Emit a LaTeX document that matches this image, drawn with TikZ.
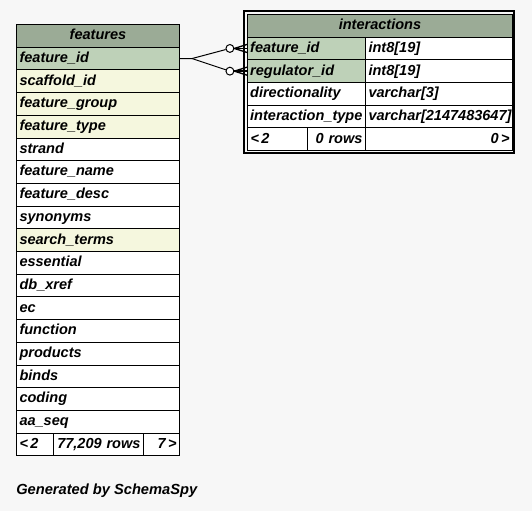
\documentclass[tikz,border=0pt]{standalone}
\usepackage{fontspec}
\setmainfont{Liberation Sans}
\usepackage{tikz}
\usetikzlibrary{positioning}

\definecolor{diagbg}{RGB}{247,247,247}
\definecolor{headfill}{RGB}{155,171,150}
\definecolor{keyfill}{RGB}{190,209,184}
\definecolor{idxfill}{RGB}{245,247,222}
\hyphenpenalty=10000
\exhyphenpenalty=10000

\begin{document}
\begin{tikzpicture}[x=0.75pt,y=0.75pt,yscale=-1,
  every node/.style={font=\fontsize{10.9}{12}\selectfont\bfseries\itshape},
  cell/.style={draw=black, line width=0.75pt, fill=white, anchor=north west,
    minimum height=17.03pt, inner xsep=2.25pt, inner ysep=0pt, align=left,
    text height=8.2pt, text depth=2.4pt},
  fcol/.style={cell, text width=117.75pt},
  hcell/.style={cell, fill=headfill, align=center},
  colA/.style={cell, inner xsep=2pt, text width=84.5pt},
  colB/.style={cell, text width=105.75pt},
  ring/.style={circle, draw=black, fill=white, line width=0.75pt, minimum size=5.9pt, inner sep=0pt},
  link/.style={draw=black, line width=0.75pt}]
%set diagram size: 532 x 511
\useasboundingbox (0,0) rectangle (532,511);
\fill[diagbg] (0,0) rectangle (532,511);

%Table: features
\node[hcell, text width=117.75pt] (fhead) at (16,24) {features};
\node[fcol, fill=keyfill] (fid) at (16,46.7) {feature\_id};
\node[fcol, fill=idxfill] (fscaf) at (16,69.4) {scaffold\_id};
\node[fcol, fill=idxfill] (fgroup) at (16,92.1) {feature\_group};
\node[fcol, fill=idxfill] (ftype) at (16,114.8) {feature\_type};
\node[fcol] (fstrand) at (16,137.5) {strand};
\node[fcol] (fname) at (16,160.2) {feature\_name};
\node[fcol] (fdesc) at (16,182.9) {feature\_desc};
\node[fcol] (fsyn) at (16,205.6) {synonyms};
\node[fcol, fill=idxfill] (fsearch) at (16,228.3) {search\_terms};
\node[fcol] (fess) at (16,251) {essential};
\node[fcol] (fxref) at (16,273.7) {db\_xref};
\node[fcol] (fec) at (16,296.4) {ec};
\node[fcol] (ffunc) at (16,319.1) {function};
\node[fcol] (fprod) at (16,341.8) {products};
\node[fcol] (fbinds) at (16,364.5) {binds};
\node[fcol] (fcoding) at (16,387.2) {coding};
\node[fcol] (faa) at (16,409.9) {aa\_seq};
%footer
\node[cell, text width=23.25pt] (ffoot1) at (16,432.6) {<\,2};
\node[cell, text width=63pt, align=right] (ffoot2) at (53,432.6) {77,209 rows};
\node[cell, text width=22.5pt, align=right] (ffoot3) at (143,432.6) {7\,>};

%Table: interactions
\draw[line width=1.3pt] (244,11) rectangle (514,153);
\node[hcell, text width=194.25pt] (ihead) at (247,13.9) {interactions};
\node[colA, fill=keyfill] (ifid) at (247,36.6) {feature\_id};
\node[colB] (ifidt) at (365,36.6) {int8[19]};
\node[colA, fill=keyfill] (ireg) at (247,59.3) {regulator\_id};
\node[colB] (iregt) at (365,59.3) {int8[19]};
\node[colA] (idir) at (247,82) {directionality};
\node[colB] (idirt) at (365,82) {varchar[3]};
\node[colA] (itype) at (247,104.7) {interaction\_type};
\node[colB] (itypet) at (365,104.7) {varchar[2147483647]};
%footer
\node[cell, text width=40.5pt] (ifoot1) at (247,127.4) {<\,2};
\node[cell, text width=39pt, align=right] (ifoot2) at (307,127.4) {0 rows};
\node[colB, align=right] (ifoot3) at (365,127.4) {0\,>};

%Relationships
\node[ring, left=9.5pt of ifid] (ring1) {};
\node[ring, left=9.5pt of ireg] (ring2) {};
\coordinate (split) at ([xshift=9pt]fid.east);
\draw[link] (fid.east) -- (split) -- (ring1);
\draw[link] (split) -- (ring2);
\draw[link, line width=1pt] (ring1.east) -- ([yshift=3pt]ifid.west);
\draw[link, line width=1pt] (ring1.east) -- (ifid.west);
\draw[link, line width=1pt] (ring1.east) -- ([yshift=-3pt]ifid.west);
\draw[link, line width=1pt] (ring2.east) -- ([yshift=3pt]ireg.west);
\draw[link, line width=1pt] (ring2.east) -- (ireg.west);
\draw[link, line width=1pt] (ring2.east) -- ([yshift=-3pt]ireg.west);

%Caption
\node[anchor=west, inner sep=0pt, font=\fontsize{11}{13}\selectfont\bfseries\itshape] (caption) at (16,491) {Generated by SchemaSpy};

\end{tikzpicture}
\end{document}
